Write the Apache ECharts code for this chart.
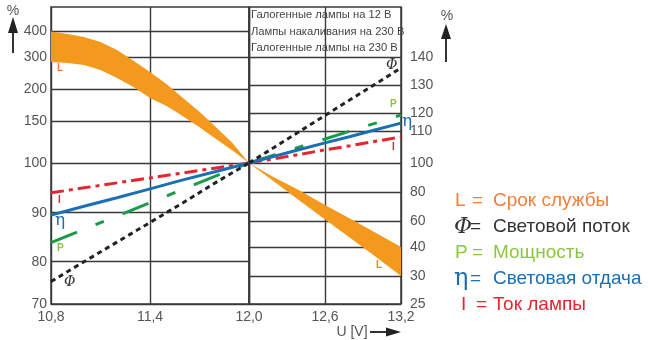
<!DOCTYPE html>
<html>
<head>
<meta charset="utf-8">
<script src="https://cdn.jsdelivr.net/npm/echarts@6/dist/echarts.min.js"></script>
<style>
  html, body { margin: 0; padding: 0; background: #fff; }
  #chart { width: 648px; height: 340px; }
</style>
</head>
<body>
<div id="chart"></div>
<script>
// x values (voltage, V)
var xLeft = [10.8, 11.0, 11.2, 11.4, 11.6, 11.8, 12.0];
var xRight = [12.0, 12.2, 12.4, 12.6, 12.8, 13.0, 13.2];
var xBandLeft = [10.8, 10.9, 11.0, 11.1, 11.2, 11.3, 11.4, 11.5, 11.6, 11.7, 11.8, 11.9, 12.0];

// L - lifetime band (upper / lower edge), %
var lifeUpperLeft = [400, 390, 378, 359, 327, 288, 253, 216, 186, 165, 143, 124, 100];
var lifeLowerLeft = [284, 281, 275, 259, 234, 206, 186, 174, 158, 143, 129, 115, 100];
var lifeUpperRight = [100, 90, 81, 71, 61.5, 51, 40];
var lifeLowerRight = [100, 87, 74, 61, 47, 36.6, 30];

// Φ - luminous flux
var fluxLeft = [75.3, 80, 84, 88, 92, 96.1, 100];
var fluxRight = [100, 104.9, 109.9, 118.6, 124.8, 130.4, 136.1];
// P - power
var powerLeft = [83.9, 86.6, 89.3, 92, 94.7, 97.4, 100];
var powerRight = [100, 102.5, 105, 107.5, 110, 114.4, 118.9];
// η - efficacy
var effLeft = [89.5, 91.3, 93, 94.8, 96.6, 98.3, 100];
var effRight = [100, 102.1, 104.2, 106.3, 108.3, 110.7, 114.4];
// I - lamp current
var currentLeft = [94, 95, 96, 97, 98, 99, 100];
var currentRight = [100, 101.3, 102.7, 104.1, 105.4, 106.8, 108.1];

// tick labels of the two (non-uniform) y scales and where they sit on the scale
var leftTicks = [70, 80, 90, 100, 150, 200, 300, 400];
var leftStops = [0, 42.3, 91.3, 141, 182.5, 215, 247, 272.5];
var rightTicks = [25, 30, 40, 60, 80, 100, 110, 120, 130, 140];
var rightStops = [0, 28, 57, 83, 112, 141, 173, 191, 219, 247];
var scaleTop = 297;

var boxLines = ['Галогенные лампы на 12 В', 'Лампы накаливания на 230 В', 'Галогенные лампы на 230 В'];

function toScale(v, ticks, stops) {
  var i = 0;
  while (i < ticks.length - 2 && v > ticks[i + 1]) i++;
  var t = (v - ticks[i]) / (ticks[i + 1] - ticks[i]);
  return stops[i] + t * (stops[i + 1] - stops[i]);
}
function lbl(ticks, stops) {
  return function (val) {
    for (var i = 0; i < stops.length; i++) {
      if (Math.abs(stops[i] - val) < 0.01) return String(ticks[i]);
    }
    return '';
  };
}
function pts(xs, vals, side) {
  return xs.map(function (x, i) {
    return side === 0 ? [x, toScale(vals[i], leftTicks, leftStops)] : [x, toScale(vals[i], rightTicks, rightStops)];
  });
}

var FONT = 'Liberation Sans';
var GRID_C = '#3a3a3a';
var ORANGE = '#f39a1e';
var C_FLUX = '#222', C_P = '#1c9a4a', C_ETA = '#1b6fb5', C_I = '#e3262f';

function lineSeries(name, idx, data, color, type) {
  return {
    name: name, type: 'line', xAxisIndex: idx, yAxisIndex: idx, data: data,
    symbol: 'none', z: 3,
    lineStyle: { color: color, width: 3, type: type }
  };
}

// lifetime band as a filled polygon (upper edge, then lower edge backwards)
function bandSeries(side, xs, up, lo) {
  var outline = pts(xs, up, side).concat(pts(xs, lo, side).reverse());
  return {
    type: 'custom', xAxisIndex: side, yAxisIndex: side, z: 2, clip: true,
    data: outline,
    renderItem: function (params, api) {
      if (params.dataIndex !== 0) return null;
      return {
        type: 'polygon',
        shape: { points: outline.map(function (p) { return api.coord(p); }) },
        style: { fill: ORANGE }
      };
    }
  };
}

var series = [];
[0, 1].forEach(function (side) {
  var xb = side === 0 ? xBandLeft : xRight;
  series.push(bandSeries(side, xb, side === 0 ? lifeUpperLeft : lifeUpperRight, side === 0 ? lifeLowerLeft : lifeLowerRight));
  var xs = side === 0 ? xLeft : xRight;
  series.push(lineSeries('I', side, pts(xs, side === 0 ? currentLeft : currentRight, side), C_I, [13, 5, 4, 5]));
  series.push(lineSeries('P', side, pts(xs, side === 0 ? powerLeft : powerRight, side), C_P, [28, 20, 9, 20]));
  series.push(lineSeries('η', side, pts(xs, side === 0 ? effLeft : effRight, side), C_ETA, 'solid'));
  series.push(lineSeries('Φ', side, pts(xs, side === 0 ? fluxLeft : fluxRight, side), C_FLUX, [5, 4]));
});

function xAxisOf(idx, min, max) {
  return {
    gridIndex: idx, type: 'value', min: min, max: max, interval: 0.6,
    axisLine: { show: false }, axisTick: { show: false },
    splitLine: { show: true, lineStyle: { color: GRID_C, width: 1.4 } },
    axisLabel: {
      color: '#555', fontSize: 14, fontFamily: FONT, margin: 6,
      showMinLabel: idx === 0,
      formatter: function (v) { return v.toFixed(1).replace('.', ','); }
    }
  };
}
function yAxisOf(idx, ticks, stops) {
  return {
    gridIndex: idx, type: 'value', min: 0, max: scaleTop, position: idx === 0 ? 'left' : 'right',
    axisLine: { show: false },
    axisTick: { show: false, customValues: stops },
    splitLine: { show: true, lineStyle: { color: GRID_C, width: 1.4 } },
    axisLabel: {
      customValues: stops, color: '#555', fontSize: 14, fontFamily: FONT,
      margin: idx === 0 ? 4 : 9, formatter: lbl(ticks, stops)
    }
  };
}

function txt(x, y, s, color, size, extra) {
  var st = { text: s, fill: color, fontSize: size, fontFamily: FONT, align: 'left', verticalAlign: 'middle' };
  for (var k in extra) st[k] = extra[k];
  return { type: 'text', x: x, y: y, style: st, z: 10 };
}

var graphic = [];
// axis arrows and units
graphic.push({ type: 'line', shape: { x1: 13, y1: 53, x2: 13, y2: 30 }, style: { stroke: '#333', lineWidth: 2 } });
graphic.push({ type: 'polygon', shape: { points: [[13, 17], [8, 33], [18, 33]] }, style: { fill: '#222' } });
graphic.push(txt(13, 11, '%', '#555', 14, { align: 'center' }));
graphic.push({ type: 'line', shape: { x1: 446, y1: 62, x2: 446, y2: 36 }, style: { stroke: '#333', lineWidth: 2 } });
graphic.push({ type: 'polygon', shape: { points: [[446, 24], [441, 39], [451, 39]] }, style: { fill: '#222' } });
graphic.push(txt(447, 16, '%', '#555', 14, { align: 'center' }));
graphic.push(txt(352, 332, 'U [V]', '#555', 14, { align: 'center' }));
graphic.push({ type: 'line', shape: { x1: 370, y1: 332, x2: 388, y2: 332 }, style: { stroke: '#333', lineWidth: 2 } });
graphic.push({ type: 'polygon', shape: { points: [[401, 332], [386, 327.5], [386, 336.5]] }, style: { fill: '#222' } });
// lamp-type box
boxLines.forEach(function (s, i) {
  graphic.push(txt(251, 15 + i * 16.5, s, '#444', 11.2));
});
// curve tags
var tagBold = { fontWeight: 'bold' };
graphic.push(txt(57, 68, 'L', '#f07d3a', 10, tagBold));
graphic.push(txt(376, 265, 'L', '#f07d3a', 10, tagBold));
graphic.push(txt(57, 248, 'P', '#8cc63f', 10, tagBold));
graphic.push(txt(390, 104, 'P', '#8cc63f', 10, tagBold));
graphic.push(txt(58, 200, 'I', C_I, 10, tagBold));
graphic.push(txt(392, 147, 'I', C_I, 10, tagBold));
graphic.push(txt(55, 221, 'η', C_ETA, 17, { fontFamily: 'DejaVu Serif' }));
graphic.push(txt(402, 122, 'η', C_ETA, 17, { fontFamily: 'DejaVu Serif' }));
graphic.push(txt(64, 282, 'Φ', '#333', 14, { fontFamily: 'DejaVu Serif', fontStyle: 'italic' }));
graphic.push(txt(386, 65, 'Φ', '#333', 14, { fontFamily: 'DejaVu Serif', fontStyle: 'italic' }));
// legend: symbol, "=", description
var legendRows = [
  ['L', 'Срок службы', '#f07f3c', FONT, 19, 455],
  ['Φ', 'Световой поток', '#333', 'DejaVu Serif', 22, 454],
  ['P', 'Мощность', '#8cc63f', FONT, 19, 455],
  ['η', 'Световая отдача', C_ETA, 'DejaVu Serif', 24, 454],
  ['I', 'Ток лампы', C_I, FONT, 19, 461]
];
legendRows.forEach(function (r, i) {
  var y = 201 + i * 26;
  graphic.push(txt(r[5], y, r[0], r[2], r[4], { fontFamily: r[3], fontStyle: r[0] === 'Φ' ? 'italic' : 'normal' }));
  graphic.push(txt(r[0] === 'L' || r[0] === 'P' ? 472 : 470 + (r[0] === 'I' ? 6 : 0), y, '=', r[2], 19));
  graphic.push(txt(493, y, r[1], r[2], 19));
});

var chart = echarts.init(document.getElementById('chart'));
chart.setOption({
  animation: false,
  backgroundColor: '#fff',
  grid: [
    { left: 51, top: 7, width: 198, height: 297, show: true, borderColor: GRID_C, borderWidth: 1.5, backgroundColor: 'transparent' },
    { left: 249, top: 7, width: 152, height: 297, show: true, borderColor: GRID_C, borderWidth: 1.5, backgroundColor: 'transparent' }
  ],
  xAxis: [xAxisOf(0, 10.8, 12.0), xAxisOf(1, 12.0, 13.2)],
  yAxis: [yAxisOf(0, leftTicks, leftStops), yAxisOf(1, rightTicks, rightStops)],
  series: series,
  graphic: graphic
});
</script>
</body>
</html>
